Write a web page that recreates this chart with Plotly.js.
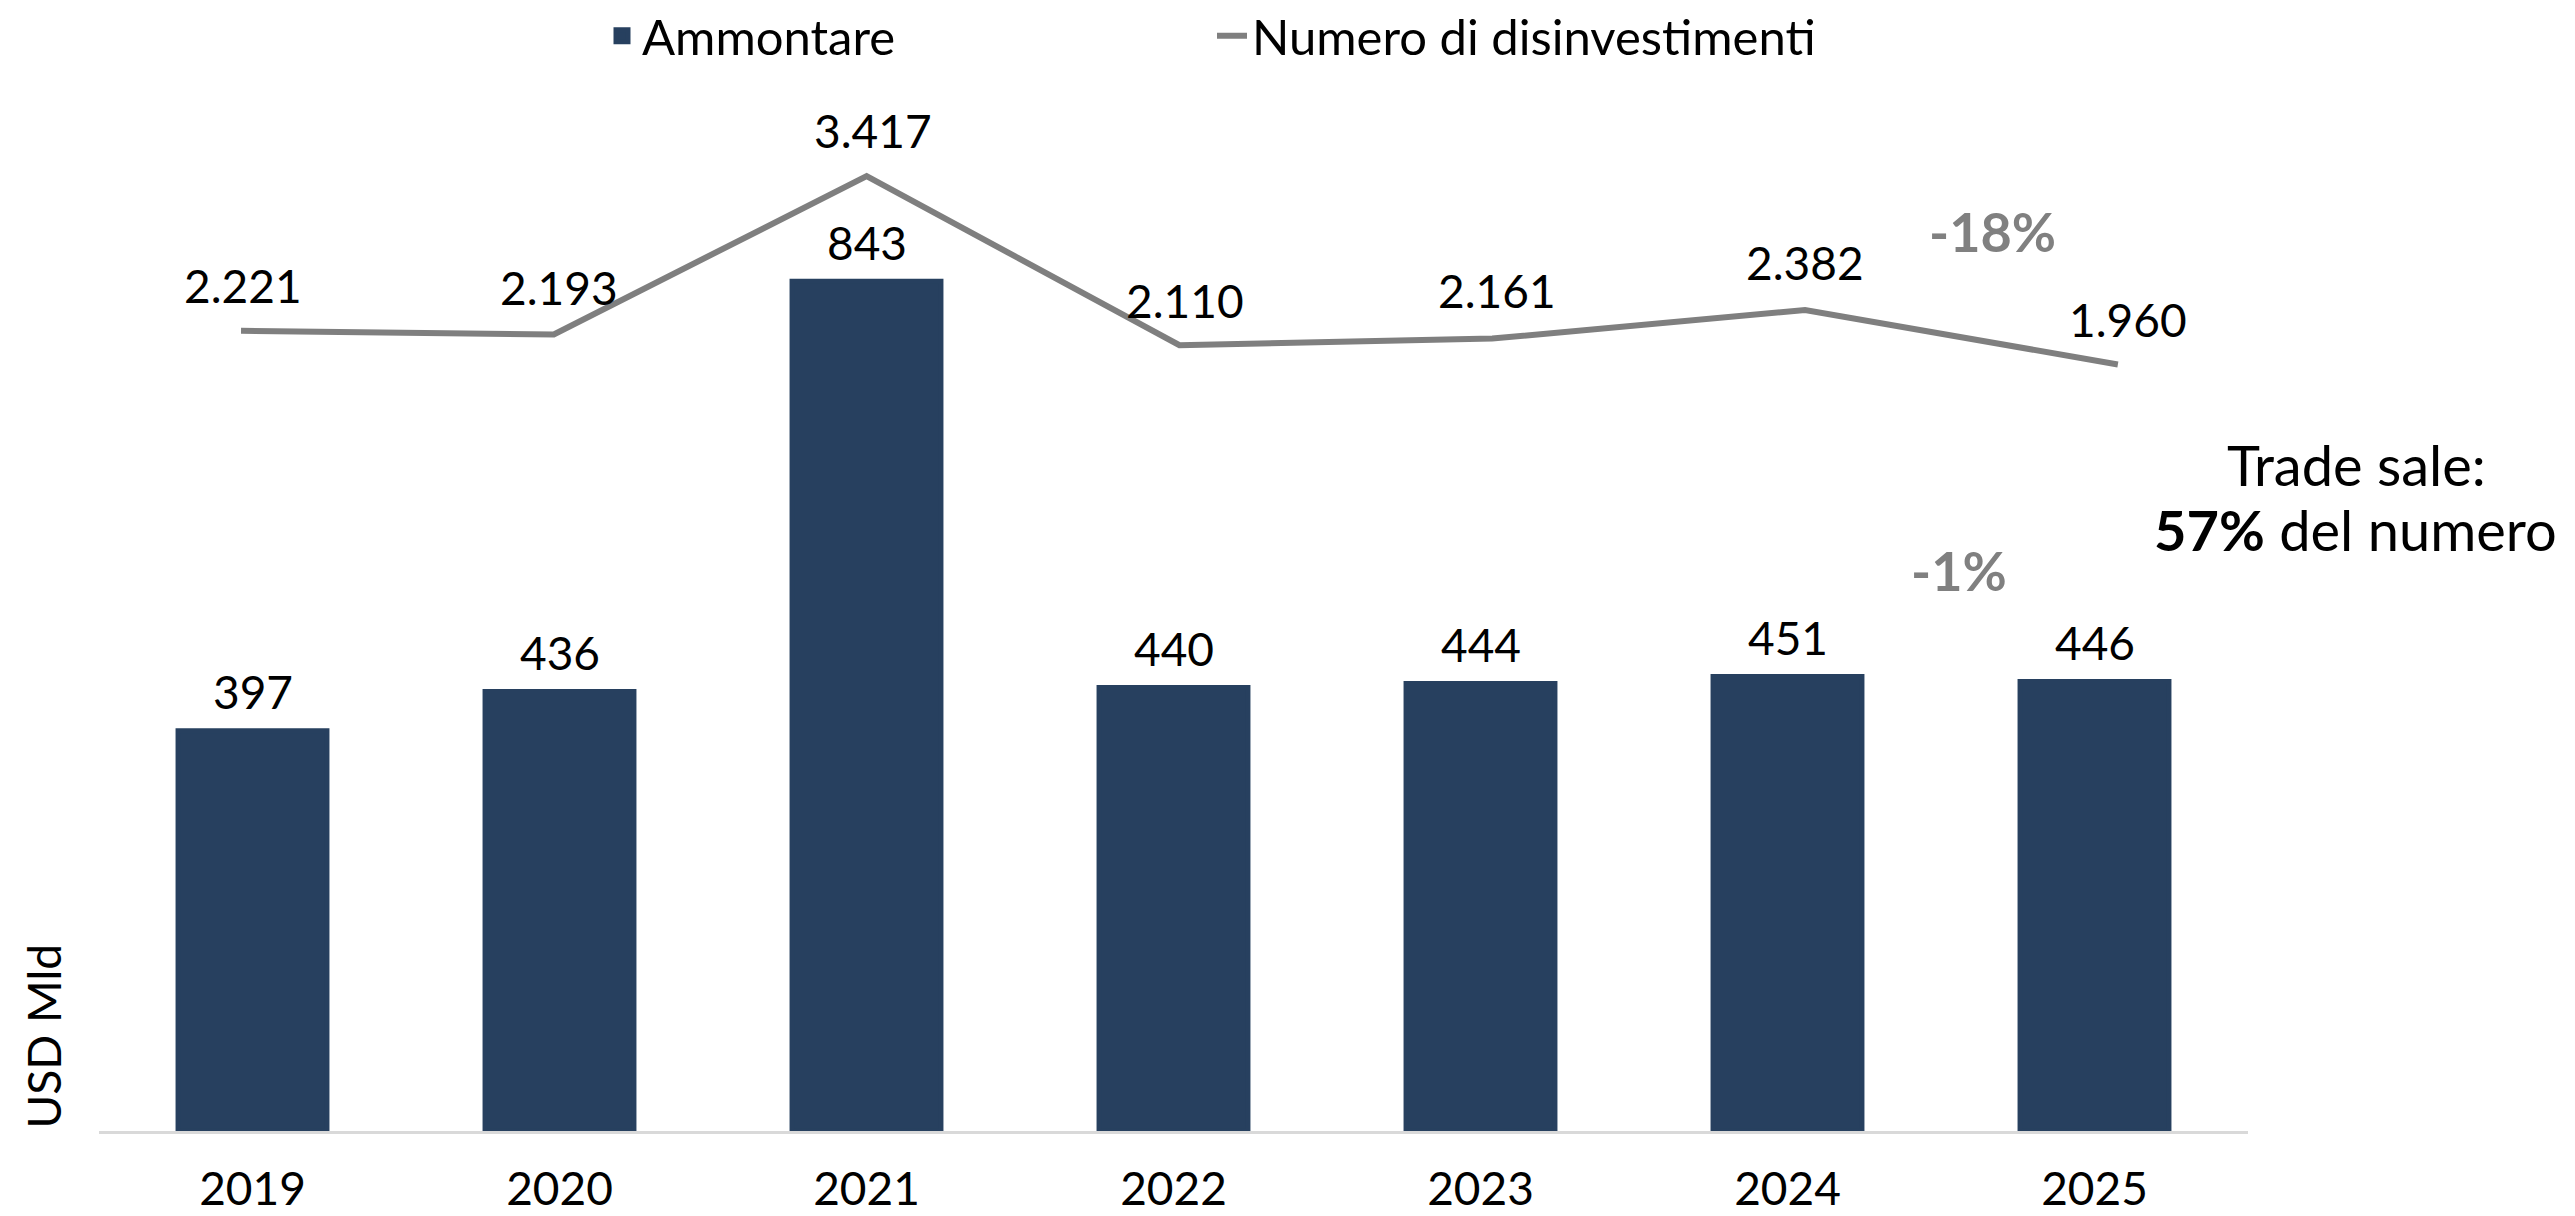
<!DOCTYPE html>
<html>
<head>
<meta charset="utf-8">
<script src="https://cdn.plot.ly/plotly-3.0.1.min.js"></script>
<style>html,body{margin:0;padding:0;background:#fff;}#chart{width:2575px;height:1216px;}</style>
</head>
<body>
<div id="chart"></div>
<script>
const years = ['2019','2020','2021','2022','2023','2024','2025'];
const ammontare = [397, 436, 843, 440, 444, 451, 446];
const numeroDisinvestimenti = [2221, 2193, 3417, 2110, 2161, 2382, 1960];
const varNumero = '-18%';
const varAmmontare = '-1%';
const tradeSaleLine1 = 'Trade sale:';
const tradeSaleLine2 = '<b>57%</b> del numero';

// label nudges (style only, pixels)
const lineLabelDx = [2, 5, 6, 6, 5, 0, 10];
const lineLabelDy = [45, 47, 46, 45, 48, 47, 45];
const barLabelDy = 39;

const FONT = 'Lato, "Open Sans", sans-serif';
const FS = 46;

const fmt = v => v.toString().replace(/\B(?=(\d{3})+(?!\d))/g, '.');
const idx = years.map((_, i) => i);

const traces = [
  {
    type: 'bar', name: 'Ammontare', x: years, y: ammontare,
    marker: {color: '#27405F', line: {color: '#27405F', width: 5}},
    hoverinfo: 'skip'
  },
  {
    type: 'scatter', mode: 'lines', name: 'Numero di disinvestimenti',
    x: idx, y: numeroDisinvestimenti, xaxis: 'x2', yaxis: 'y2',
    line: {color: '#7F7F7F', width: 6}, hoverinfo: 'skip'
  }
];

const annotations = numeroDisinvestimenti.map((v, i) => ({
  x: i, y: v, xref: 'x2', yref: 'y2', text: fmt(v), showarrow: false,
  xshift: lineLabelDx[i], yshift: lineLabelDy[i], xanchor: 'center', yanchor: 'middle',
  font: {family: FONT, size: FS, color: '#000'}
}));

ammontare.forEach((v, i) => annotations.push({
  x: i, y: v, xref: 'x', yref: 'y', text: String(v), showarrow: false,
  yshift: barLabelDy, xanchor: 'center', yanchor: 'middle',
  font: {family: FONT, size: FS, color: '#000'}
}));

const px = p => (p - 99) / 2149;
const py = p => (1131 - p) / 1071;

annotations.push(
  {xref: 'paper', yref: 'paper', x: px(1992), y: py(232), xanchor: 'center', yanchor: 'middle',
   text: '<b>' + varNumero + '</b>', showarrow: false, font: {family: FONT, size: 54, color: '#808080'}},
  {xref: 'paper', yref: 'paper', x: px(1959), y: py(570), xanchor: 'center', yanchor: 'middle',
   text: '<b>' + varAmmontare + '</b>', showarrow: false, font: {family: FONT, size: 54, color: '#808080'}},
  {xref: 'paper', yref: 'paper', x: px(2356), y: py(464), xanchor: 'center', yanchor: 'middle',
   text: tradeSaleLine1, showarrow: false, font: {family: FONT, size: 56, color: '#000'}},
  {xref: 'paper', yref: 'paper', x: px(2355), y: py(529), xanchor: 'center', yanchor: 'middle',
   text: tradeSaleLine2, showarrow: false, font: {family: FONT, size: 56, color: '#000'}},
  {xref: 'paper', yref: 'paper', x: px(43), y: 0, xanchor: 'center', yanchor: 'bottom',
   text: 'USD Mld', textangle: -90, showarrow: false, font: {family: FONT, size: FS, color: '#000'}}
);

const layout = {
  width: 2575, height: 1216,
  margin: {l: 99, r: 327, t: 60, b: 85, autoexpand: false},
  paper_bgcolor: '#fff', plot_bgcolor: '#fff',
  font: {family: FONT, size: FS, color: '#000'},
  bargap: 0.515,
  showlegend: true,
  legend: {orientation: 'h', x: px(602), xanchor: 'left', y: 1 + (60 - 36) / 1071, yanchor: 'middle',
           font: {family: FONT, size: 49, color: '#000'}, entrywidth: 565, entrywidthmode: 'pixels',
           bgcolor: 'rgba(0,0,0,0)'},
  xaxis: {type: 'category', range: [-0.5, 6.5], showgrid: false, zeroline: false, showline: true,
          linecolor: '#D9D9D9', linewidth: 3,
          ticks: 'outside', ticklen: 16, tickcolor: 'rgba(0,0,0,0)',
          tickfont: {family: FONT, size: FS, color: '#000'}},
  xaxis2: {type: 'linear', range: [-0.454, 6.416], overlaying: 'x', visible: false, showgrid: false, zeroline: false},
  yaxis: {range: [0, 1062.5], visible: false, showgrid: false, zeroline: false},
  yaxis2: {range: [-3967, 4315], overlaying: 'y', side: 'right', visible: false, showgrid: false, zeroline: false},
  annotations: annotations
};

Plotly.newPlot('chart', traces, layout, {staticPlot: true, displayModeBar: false});
</script>
</body>
</html>
